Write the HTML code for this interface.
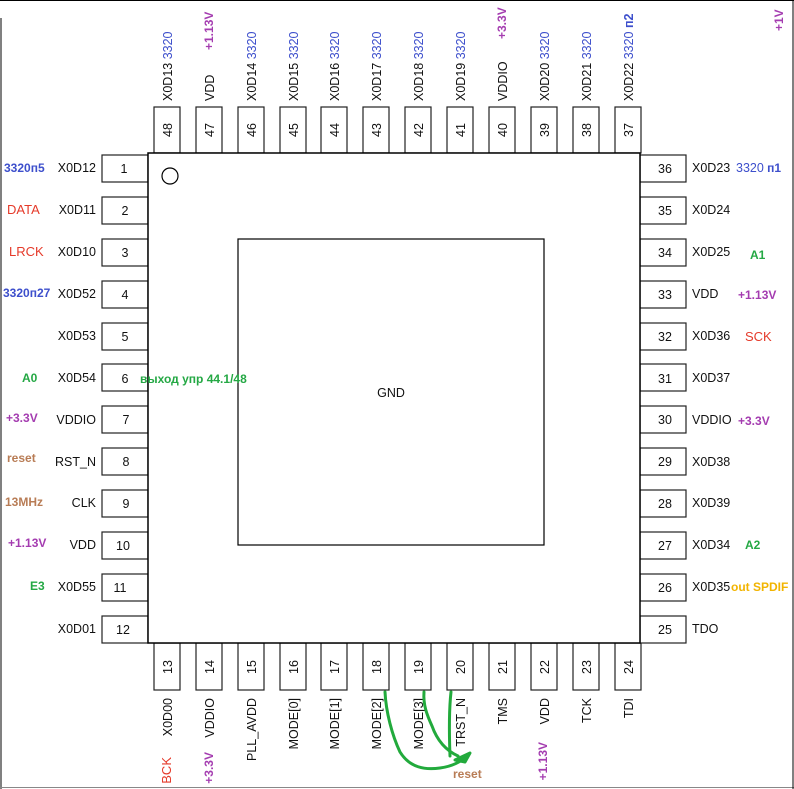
<!DOCTYPE html>
<html><head><meta charset="utf-8"><style>
html,body{margin:0;padding:0;background:#fff;}
svg{display:block;font-family:"Liberation Sans","DejaVu Sans",sans-serif;}
.l{font-size:12.5px;fill:#111;}
.n{font-size:12.5px;fill:#111;}
.b{fill:#3d4fcc;font-size:12.5px;}
.p{fill:#a43cb0;font-size:12px;font-weight:bold;}
.r{fill:#e53a2a;font-size:13px;}
.g{fill:#24a844;font-size:12px;font-weight:bold;}
.br{fill:#b87c55;font-size:12px;font-weight:bold;}
.o{fill:#f2b400;font-size:12px;font-weight:bold;}
rect{fill:#fff;stroke:#222;stroke-width:1.2;}
</style></head><body>
<svg width="794" height="789" viewBox="0 0 794 789">
<line x1="0" y1="0.5" x2="794" y2="0.5" stroke="#000"/>
<line x1="1" y1="18" x2="1" y2="789" stroke="#000"/>
<line x1="0" y1="787.5" x2="794" y2="787.5" stroke="#888"/>
<line x1="793" y1="0" x2="793" y2="789" stroke="#000"/>

<!-- top pins -->
<g>
<rect x="154" y="107" width="26" height="46"/><rect x="196" y="107" width="26" height="46"/><rect x="238" y="107" width="26" height="46"/><rect x="280" y="107" width="26" height="46"/><rect x="321" y="107" width="26" height="46"/><rect x="363" y="107" width="26" height="46"/><rect x="405" y="107" width="26" height="46"/><rect x="447" y="107" width="26" height="46"/><rect x="489" y="107" width="26" height="46"/><rect x="531" y="107" width="26" height="46"/><rect x="573" y="107" width="26" height="46"/><rect x="615" y="107" width="26" height="46"/>
</g>
<!-- bottom pins -->
<g>
<rect x="154" y="643" width="26" height="47"/><rect x="196" y="643" width="26" height="47"/><rect x="238" y="643" width="26" height="47"/><rect x="280" y="643" width="26" height="47"/><rect x="321" y="643" width="26" height="47"/><rect x="363" y="643" width="26" height="47"/><rect x="405" y="643" width="26" height="47"/><rect x="447" y="643" width="26" height="47"/><rect x="489" y="643" width="26" height="47"/><rect x="531" y="643" width="26" height="47"/><rect x="573" y="643" width="26" height="47"/><rect x="615" y="643" width="26" height="47"/>
</g>
<!-- left pins -->
<g>
<rect x="102" y="155" width="46" height="27"/><rect x="102" y="197" width="46" height="27"/><rect x="102" y="239" width="46" height="27"/><rect x="102" y="281" width="46" height="27"/><rect x="102" y="323" width="46" height="27"/><rect x="102" y="364" width="46" height="27"/><rect x="102" y="406" width="46" height="27"/><rect x="102" y="448" width="46" height="27"/><rect x="102" y="490" width="46" height="27"/><rect x="102" y="532" width="46" height="27"/><rect x="102" y="574" width="46" height="27"/><rect x="102" y="616" width="46" height="27"/>
</g>
<!-- right pins -->
<g>
<rect x="640" y="155" width="46" height="27"/><rect x="640" y="197" width="46" height="27"/><rect x="640" y="239" width="46" height="27"/><rect x="640" y="281" width="46" height="27"/><rect x="640" y="323" width="46" height="27"/><rect x="640" y="364" width="46" height="27"/><rect x="640" y="406" width="46" height="27"/><rect x="640" y="448" width="46" height="27"/><rect x="640" y="490" width="46" height="27"/><rect x="640" y="532" width="46" height="27"/><rect x="640" y="574" width="46" height="27"/><rect x="640" y="616" width="46" height="27"/>
</g>
<rect x="148" y="153" width="492" height="490" style="stroke:#000;stroke-width:1.5"/>
<rect x="238" y="239" width="306" height="306" style="stroke:#000"/>
<circle cx="170" cy="176" r="8" fill="none" stroke="#000" stroke-width="1.2"/>
<text x="391" y="397" text-anchor="middle" class="l">GND</text>

<!-- left numbers and labels -->
<g class="n" text-anchor="middle">
<text x="124" y="173">1</text><text x="125" y="215">2</text><text x="125" y="257">3</text><text x="125" y="299">4</text><text x="125" y="341">5</text><text x="125" y="383">6</text><text x="126" y="424">7</text><text x="126" y="466">8</text><text x="126" y="508">9</text><text x="123" y="550">10</text><text x="120" y="592">11</text><text x="123" y="634">12</text>
</g>
<g class="l" text-anchor="end">
<text x="96" y="172">X0D12</text><text x="96" y="214">X0D11</text><text x="96" y="256">X0D10</text><text x="96" y="298">X0D52</text><text x="96" y="340">X0D53</text><text x="96" y="382">X0D54</text><text x="96" y="424">VDDIO</text><text x="96" y="466">RST_N</text><text x="96" y="507">CLK</text><text x="96" y="549">VDD</text><text x="96" y="591">X0D55</text><text x="96" y="633">X0D01</text>
</g>
<text x="4" y="172" class="b" style="font-weight:bold;font-size:12px">3320п5</text>
<text x="7" y="214" class="r">DATA</text>
<text x="9" y="256" class="r">LRCK</text>
<text x="3" y="297" class="b" style="font-weight:bold;font-size:12px">3320п27</text>
<text x="22" y="382" class="g">A0</text>
<text x="6" y="422" class="p">+3.3V</text>
<text x="7" y="462" class="br">reset</text>
<text x="5" y="506" class="br">13MHz</text>
<text x="8" y="547" class="p">+1.13V</text>
<text x="30" y="590" class="g">E3</text>
<text x="140" y="383" class="g">выход упр 44.1/48</text>

<!-- right numbers and labels -->
<g class="n" text-anchor="middle">
<text x="665" y="173">36</text><text x="665" y="215">35</text><text x="665" y="257">34</text><text x="665" y="299">33</text><text x="665" y="341">32</text><text x="665" y="383">31</text><text x="665" y="424">30</text><text x="665" y="466">29</text><text x="665" y="508">28</text><text x="665" y="550">27</text><text x="665" y="592">26</text><text x="665" y="634">25</text>
</g>
<g class="l">
<text x="692" y="172">X0D23</text><text x="692" y="214">X0D24</text><text x="692" y="256">X0D25</text><text x="692" y="298">VDD</text><text x="692" y="340">X0D36</text><text x="692" y="382">X0D37</text><text x="692" y="424">VDDIO</text><text x="692" y="466">X0D38</text><text x="692" y="507">X0D39</text><text x="692" y="549">X0D34</text><text x="692" y="591">X0D35</text><text x="692" y="633">TDO</text>
</g>
<text x="736" y="172" class="b">3320<tspan style="font-weight:bold;font-size:12px"> п1</tspan></text>
<text x="750" y="259" class="g">A1</text>
<text x="738" y="299" class="p">+1.13V</text>
<text x="745" y="341" class="r">SCK</text>
<text x="738" y="425" class="p">+3.3V</text>
<text x="745" y="549" class="g">A2</text>
<text x="731" y="591" class="o">out SPDIF</text>

<!-- top numbers and labels (rotated) -->
<g class="n" text-anchor="middle">
<text transform="translate(172,130) rotate(-90)">48</text><text transform="translate(214,130) rotate(-90)">47</text><text transform="translate(256,130) rotate(-90)">46</text><text transform="translate(298,130) rotate(-90)">45</text><text transform="translate(339,130) rotate(-90)">44</text><text transform="translate(381,130) rotate(-90)">43</text><text transform="translate(423,130) rotate(-90)">42</text><text transform="translate(465,130) rotate(-90)">41</text><text transform="translate(507,130) rotate(-90)">40</text><text transform="translate(549,130) rotate(-90)">39</text><text transform="translate(591,130) rotate(-90)">38</text><text transform="translate(633,130) rotate(-90)">37</text>
</g>
<g class="l">
<text transform="translate(172,101) rotate(-90)">X0D13 <tspan class="b">3320</tspan></text>
<text transform="translate(214,101) rotate(-90)">VDD</text>
<text transform="translate(256,101) rotate(-90)">X0D14 <tspan class="b">3320</tspan></text>
<text transform="translate(298,101) rotate(-90)">X0D15 <tspan class="b">3320</tspan></text>
<text transform="translate(339,101) rotate(-90)">X0D16 <tspan class="b">3320</tspan></text>
<text transform="translate(381,101) rotate(-90)">X0D17 <tspan class="b">3320</tspan></text>
<text transform="translate(423,101) rotate(-90)">X0D18 <tspan class="b">3320</tspan></text>
<text transform="translate(465,101) rotate(-90)">X0D19 <tspan class="b">3320</tspan></text>
<text transform="translate(507,101) rotate(-90)">VDDIO</text>
<text transform="translate(549,101) rotate(-90)">X0D20 <tspan class="b">3320</tspan></text>
<text transform="translate(591,101) rotate(-90)">X0D21 <tspan class="b">3320</tspan></text>
<text transform="translate(633,101) rotate(-90)">X0D22 <tspan class="b">3320</tspan><tspan class="b" style="font-weight:bold"> п2</tspan></text>
</g>
<text transform="translate(213,50) rotate(-90)" class="p">+1.13V</text>
<text transform="translate(506,39) rotate(-90)" class="p">+3.3V</text>
<text transform="translate(783,31) rotate(-90)" class="p">+1V</text>

<!-- bottom numbers and labels -->
<g class="n" text-anchor="middle">
<text transform="translate(172,667) rotate(-90)">13</text><text transform="translate(214,667) rotate(-90)">14</text><text transform="translate(256,667) rotate(-90)">15</text><text transform="translate(298,667) rotate(-90)">16</text><text transform="translate(339,667) rotate(-90)">17</text><text transform="translate(381,667) rotate(-90)">18</text><text transform="translate(423,667) rotate(-90)">19</text><text transform="translate(465,667) rotate(-90)">20</text><text transform="translate(507,667) rotate(-90)">21</text><text transform="translate(549,667) rotate(-90)">22</text><text transform="translate(591,667) rotate(-90)">23</text><text transform="translate(633,667) rotate(-90)">24</text>
</g>
<g class="l" text-anchor="end">
<text transform="translate(172,698) rotate(-90)">X0D00</text>
<text transform="translate(214,698) rotate(-90)">VDDIO</text>
<text transform="translate(256,698) rotate(-90)">PLL_AVDD</text>
<text transform="translate(298,698) rotate(-90)">MODE[0]</text>
<text transform="translate(339,698) rotate(-90)">MODE[1]</text>
<text transform="translate(381,698) rotate(-90)">MODE[2]</text>
<text transform="translate(423,698) rotate(-90)">MODE[3]</text>
<text transform="translate(465,698) rotate(-90)">TRST_N</text>
<text transform="translate(507,698) rotate(-90)">TMS</text>
<text transform="translate(549,698) rotate(-90)">VDD</text>
<text transform="translate(591,698) rotate(-90)">TCK</text>
<text transform="translate(633,698) rotate(-90)">TDI</text>
</g>
<g text-anchor="end">
<text transform="translate(171,757) rotate(-90)" class="r">BCK</text>
<text transform="translate(213,752) rotate(-90)" class="p">+3.3V</text>
<text transform="translate(547,742) rotate(-90)" class="p">+1.13V</text>
</g>
<text x="453" y="778" class="br">reset</text>

<!-- green hand-drawn wires -->
<g fill="none" stroke="#22aa3c" stroke-width="3" stroke-linecap="round" stroke-linejoin="round">
<path d="M385 692 C386 712 392 735 400 752 C410 768 425 770 440 768 C455 766 462 760 468 756"/>
<path d="M424 692 C423 705 427 715 432 726 C437 740 445 750 458 756"/>
<path d="M451 692 C449 710 449 730 450 756"/>
<path d="M455 760 L470 753 L465 762 Z" fill="#22aa3c"/>
</g>
</svg>
</body></html>
